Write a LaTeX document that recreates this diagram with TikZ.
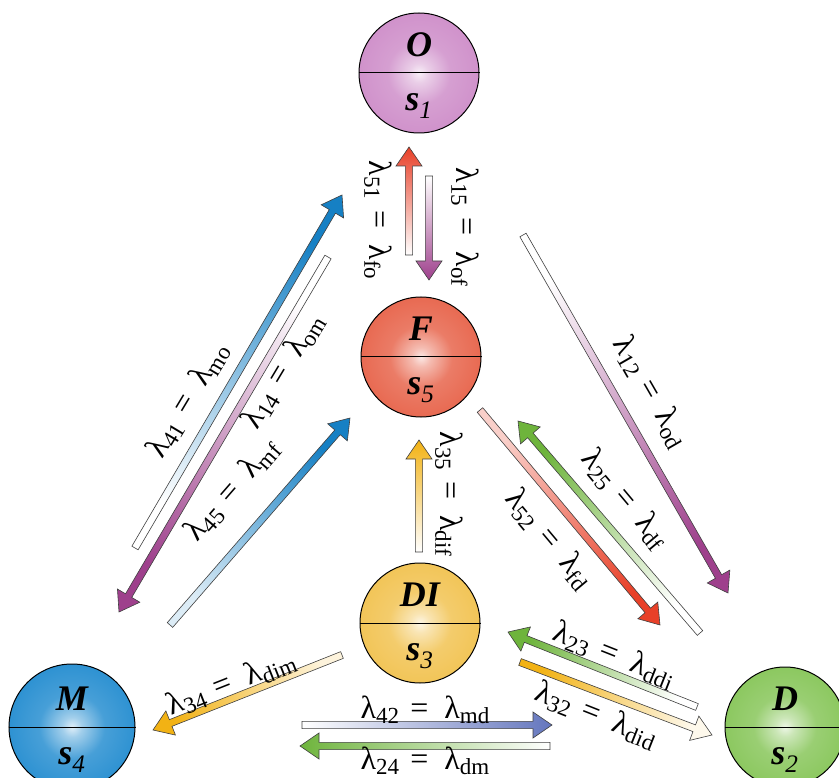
\documentclass[tikz,border=0pt]{standalone}
\usepackage{fontspec}
\setmainfont{Liberation Serif}
\usetikzlibrary{calc}
\definecolor{ored}{RGB}{232,64,40}
\definecolor{opurple}{RGB}{158,64,140}
\definecolor{oblue}{RGB}{22,128,196}
\definecolor{oslate}{RGB}{100,118,190}
\definecolor{ogreen}{RGB}{110,180,60}
\definecolor{oyellow}{RGB}{242,178,20}
\colorlet{sph}{white}
\pgfdeclareradialshading[sph]{sphball}{\pgfpoint{0bp}{0bp}}{color(0bp)=(sph!15); color(4bp)=(sph!45); color(13bp)=(sph!88); color(25bp)=(sph); color(50bp)=(sph)}
\newcommand\lsub[1]{\raisebox{-5pt}{\fontsize{23}{23}\selectfont #1}}
\newcommand\rate[2]{λ\lsub{#1}\hspace{.35em}=\hspace{.5em}λ\lsub{#2}}
\newcommand\rarrow[4]{%
  \pgfmathanglebetweenpoints{\pgfpointanchor{#1}{center}}{\pgfpointanchor{#2}{center}}%
  \let\arang\pgfmathresult
  \pgfmathsetmacro\shang{\arang-90}%
  \coordinate (hb) at ($(#2)!19pt!(#1)$);
  \shade[rarr,bottom color=#3,top color=#4,shading angle=\shang]
    ($(#1)!3.6pt!90:(#2)$) -- ($(hb)!3.6pt!90:(#2)$) -- ($(hb)!13pt!90:(#2)$) -- (#2)
    -- ($(hb)!13pt!-90:(#2)$) -- ($(hb)!3.6pt!-90:(#2)$) -- ($(#1)!3.6pt!-90:(#2)$) -- cycle;}

\begin{document}
\begin{tikzpicture}[x=1pt,y=-1pt,
sphere/.style={circle,draw,line width=1pt,minimum size=120pt,inner sep=0pt,shading=sphball},
sc/.code={\colorlet{sph}{#1}},
sname/.style={font=\fontsize{36}{36}\selectfont\bfseries\itshape,inner sep=0pt},
rlab/.style={font=\fontsize{32}{32}\selectfont,inner sep=0pt},
rarr/.style={draw=black!75,line width=.6pt}]
\useasboundingbox (0,0) rectangle (839,778);
\clip (0,0) rectangle (839,778);
\node[sphere,sc={rgb,255:red,208;green,146;blue,203}] (O) at (419,73) {};
\node[sphere,sc={rgb,255:red,232;green,106;blue,82}] (F) at (421,357) {};
\node[sphere,sc={rgb,255:red,242;green,197;blue,88}] (DI) at (420,623) {};
\node[sphere,minimum size=126pt,sc={rgb,255:red,46;green,146;blue,210}] (M) at (72,727) {};
\node[sphere,sc={rgb,255:red,140;green,200;blue,96}] (D) at (785,727) {};
\foreach \n/\c in {O/1,F/5,DI/3,M/4,D/2}{
  \draw[line width=1pt] (\n.west) -- (\n.east);
  \node[sname] (\n-t) at ($(\n)+(0,-28)$) {\n};
  \node[sname] (\n-b) at ($(\n)+(0,33)$) {s\textsubscript{\mdseries\c}};
}
\coordinate (t51) at (409,255); \coordinate (h51) at (409,147);
\coordinate (t15) at (429,176); \coordinate (h15) at (429,280);
\coordinate (t41) at (135,548); \coordinate (h41) at (342,195);
\coordinate (t14) at (328,257); \coordinate (h14) at (119,612);
\coordinate (t45) at (170,625); \coordinate (h45) at (350,418);
\coordinate (t12) at (523,235); \coordinate (h12) at (728,593);
\coordinate (t25) at (700,633); \coordinate (h25) at (518,421);
\coordinate (t52) at (480,410); \coordinate (h52) at (660,625);
\coordinate (t35) at (419,552); \coordinate (h35) at (419,440);
\coordinate (t34) at (342,655); \coordinate (h34) at (153,730);
\coordinate (t42) at (302,725); \coordinate (h42) at (552,725);
\coordinate (t24) at (550,746); \coordinate (h24) at (300,746);
\coordinate (t23) at (697,707); \coordinate (h23) at (508,632);
\coordinate (t32) at (520,662); \coordinate (h32) at (712,735);
\rarrow{t51}{h51}{white}{ored}
\rarrow{t15}{h15}{white}{opurple}
\rarrow{t41}{h41}{white}{oblue}
\rarrow{t14}{h14}{white}{opurple}
\rarrow{t45}{h45}{oblue!15}{oblue}
\rarrow{t12}{h12}{white}{opurple}
\rarrow{t25}{h25}{white}{ogreen}
\rarrow{t52}{h52}{ored!25}{ored}
\rarrow{t35}{h35}{white}{oyellow}
\rarrow{t34}{h34}{oyellow!15}{oyellow}
\rarrow{t42}{h42}{white}{oslate}
\rarrow{t24}{h24}{white}{ogreen}
\rarrow{t23}{h23}{white}{ogreen}
\rarrow{t32}{h32}{oyellow}{oyellow!8}
\node[rlab,rotate=-90] (l51) at (378,220) {\rate{51}{fo}};
\node[rlab,rotate=-90] (l15) at (465,227) {\rate{15}{of}};
\node[rlab,rotate=59] (l41) at (188,400) {\rate{41}{mo}};
\node[rlab,rotate=59] (l14) at (283,371) {\rate{14}{om}};
\node[rlab,rotate=49] (l45) at (232,490) {\rate{45}{mf}};
\node[rlab,rotate=-60] (l12) at (651,392) {\rate{12}{od}};
\node[rlab,rotate=-50] (l25) at (625,499) {\rate{25}{df}};
\node[rlab,rotate=-50] (l52) at (549,539) {\rate{52}{fd}};
\node[rlab,rotate=-90] (l35) at (449,494) {\rate{35}{dif}};
\node[rlab,rotate=21.6] (l34) at (231,683) {\rate{34}{dim}};
\node[rlab] (l42) at (425,710) {\rate{42}{md}};
\node[rlab] (l24) at (425,761) {\rate{24}{dm}};
\node[rlab,rotate=-21.6] (l23) at (614,655) {\rate{23}{ddi}};
\node[rlab,rotate=-21.6] (l32) at (596,715) {\rate{32}{did}};
\end{tikzpicture}
\end{document}
